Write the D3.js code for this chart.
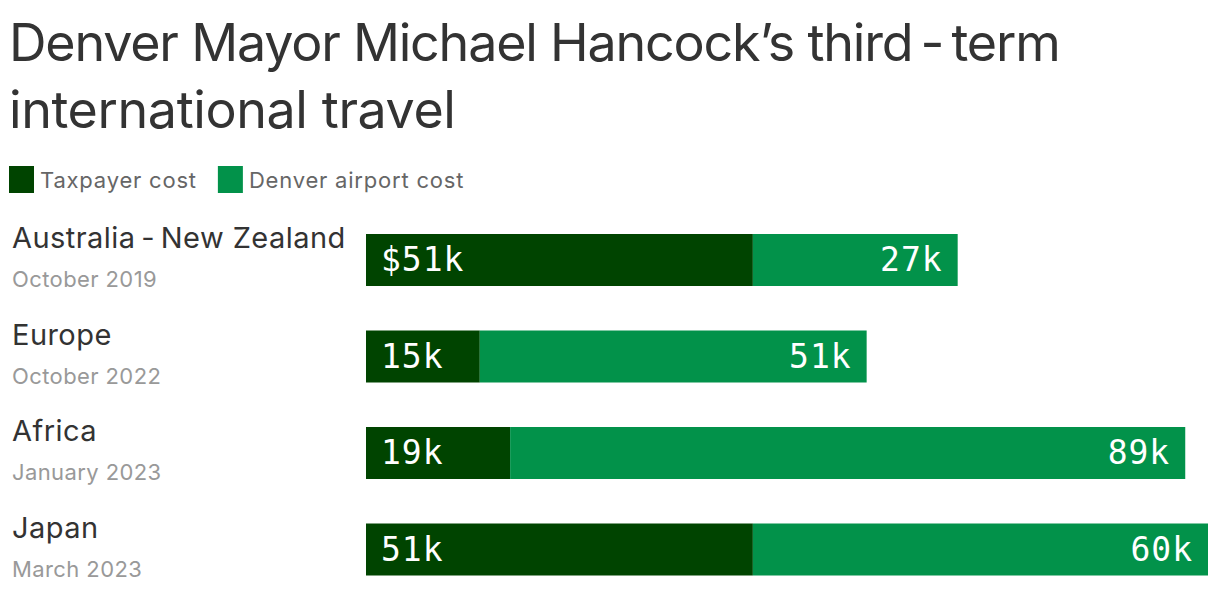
<!DOCTYPE html>
<html>
<head>
<meta charset="utf-8">
<script src="https://cdn.jsdelivr.net/npm/d3@7"></script>
<style>
  body { margin: 0; background: #fff; }
  svg { display: block; }
</style>
</head>
<body>
<svg id="chart" width="1220" height="598"></svg>
<script>
const TITLE_LINES = ['Denver Mayor Michael Hancock\u2019s third\u2009-\u2009term', 'international travel'];
const trips = ['Australia\u2009-\u2009New Zealand', 'Europe', 'Africa', 'Japan'];
const tripDates = ['October 2019', 'October 2022', 'January 2023', 'March 2023'];
const taxpayerCost = [51, 15, 19, 51];
const airportCost = [27, 51, 89, 60];
const seriesNames = ['Taxpayer cost', 'Denver airport cost'];
const seriesColors = ['#004400', '#02924a'];

const SANS = 'Inter, "Noto Sans", sans-serif';
const MONO = '"DejaVu Sans Mono", monospace';

const BAR_H = 52;
const ROW_STEP = 96.5;

const svg = d3.select('#chart');

// Title (first line a touch tighter so it fits like the original)
svg.append('text')
  .attr('font-family', SANS)
  .attr('font-size', 52)
  .attr('fill', '#333')
  .selectAll('tspan')
  .data(TITLE_LINES)
  .join('tspan')
    .attr('x', 9)
    .attr('y', (d, i) => 61 + i * 67)
    .attr('letter-spacing', (d, i) => i === 0 ? -1.2 : -0.4)
    .text(d => d);

// Legend
const legend = svg.append('g').attr('font-family', SANS).attr('font-size', 22);
let lx = 9;
seriesNames.forEach((name, i) => {
  legend.append('rect')
    .attr('x', lx).attr('y', 166).attr('width', 25).attr('height', 27)
    .attr('fill', seriesColors[i]);
  const t = legend.append('text')
    .attr('x', lx + 31).attr('y', 188)
    .attr('fill', '#666')
    .attr('letter-spacing', 0.8)
    .text(name);
  lx += 31 + t.node().getComputedTextLength() + 21;
});

// Bars
const rows = trips.map((name, i) => ({
  name, date: tripDates[i], tax: taxpayerCost[i], air: airportCost[i]
}));

const x = d3.scaleLinear()
  .domain([0, d3.max(rows, d => d.tax + d.air)])
  .range([366, 1208]);

const y = d3.scaleBand()
  .domain(trips)
  .range([234, 234 + (trips.length - 1) * ROW_STEP + BAR_H])
  .paddingInner((ROW_STEP - BAR_H) / ROW_STEP)
  .paddingOuter(0);

const row = svg.append('g').selectAll('g')
  .data(rows)
  .join('g')
    .attr('transform', d => `translate(0,${y(d.name)})`);

row.append('text')
  .attr('x', 12).attr('y', 14)
  .attr('font-family', SANS).attr('font-size', 29)
  .attr('fill', '#333').attr('letter-spacing', 0.45)
  .text(d => d.name);

row.append('text')
  .attr('x', 12).attr('y', 53)
  .attr('font-family', SANS).attr('font-size', 22)
  .attr('fill', '#999').attr('letter-spacing', 0.4)
  .text(d => d.date);

row.append('rect')
  .attr('x', x(0)).attr('y', 0)
  .attr('width', d => x(d.tax) - x(0))
  .attr('height', y.bandwidth())
  .attr('fill', seriesColors[0]);

row.append('rect')
  .attr('x', d => x(d.tax)).attr('y', 0)
  .attr('width', d => x(d.tax + d.air) - x(d.tax))
  .attr('height', y.bandwidth())
  .attr('fill', seriesColors[1]);

row.append('text')
  .attr('x', x(0) + 15)
  .attr('y', y.bandwidth() / 2 + 11)
  .attr('font-family', MONO).attr('font-size', 33)
  .attr('letter-spacing', 1)
  .attr('fill', '#fff')
  .text((d, i) => (i === 0 ? '$' : '') + d.tax + 'k');

row.append('text')
  .attr('x', d => x(d.tax + d.air) - 15)
  .attr('y', y.bandwidth() / 2 + 11)
  .attr('text-anchor', 'end')
  .attr('font-family', MONO).attr('font-size', 33)
  .attr('letter-spacing', 1)
  .attr('fill', '#fff')
  .text(d => d.air + 'k');
</script>
</body>
</html>
